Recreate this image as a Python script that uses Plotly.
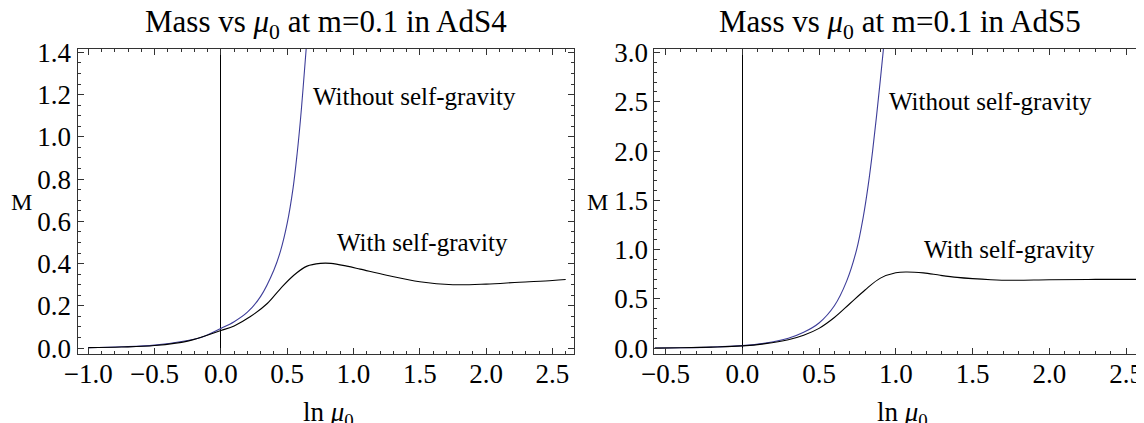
import plotly.graph_objects as go

# ---------------- data ----------------
# AdS4 panel
ads4_free_x = [-1.0, -0.75, -0.5, -0.25, -0.15, 0.0, 0.1, 0.2, 0.3, 0.4, 0.45, 0.5, 0.545, 0.575, 0.60, 0.62, 0.645]
ads4_free_y = [0.002, 0.006, 0.014, 0.036, 0.050, 0.093, 0.125, 0.17, 0.245, 0.37, 0.46, 0.59, 0.76, 0.92, 1.08, 1.23, 1.43]

ads4_grav_x = [-1.0, -0.75, -0.5, -0.25, 0.0, 0.1, 0.22, 0.35, 0.45, 0.55, 0.65, 0.75, 0.83, 0.95, 1.05,
               1.25, 1.5, 1.75, 2.0, 2.25, 2.5, 2.6]
ads4_grav_y = [0.002, 0.005, 0.012, 0.033, 0.083, 0.105, 0.148, 0.211, 0.282, 0.345, 0.388, 0.401, 0.401, 0.388, 0.374,
               0.345, 0.314, 0.300, 0.303, 0.312, 0.320, 0.325]

# AdS5 panel
ads5_free_x = [-0.57, -0.4, -0.2, 0.0, 0.15, 0.3, 0.4, 0.5, 0.6, 0.68, 0.745, 0.788, 0.821, 0.849, 0.875, 0.90, 0.925]
ads5_free_y = [0.0, 0.003, 0.01, 0.025, 0.05, 0.10, 0.16, 0.255, 0.43, 0.68, 1.0, 1.33, 1.66, 2.0, 2.36, 2.73, 3.12]

ads5_grav_x = [-0.57, -0.4, -0.2, 0.0, 0.15, 0.3, 0.4, 0.5, 0.6, 0.7, 0.8, 0.9, 1.0, 1.07, 1.18, 1.29,
               1.4, 1.5, 1.62, 1.75, 2.0, 2.3, 2.62]
ads5_grav_y = [0.0, 0.003, 0.01, 0.022, 0.045, 0.085, 0.13, 0.20, 0.31, 0.45, 0.59, 0.71, 0.765, 0.773, 0.763, 0.739,
               0.718, 0.705, 0.694, 0.688, 0.693, 0.697, 0.698]

ads4_xticks = [-1.0, -0.5, 0.0, 0.5, 1.0, 1.5, 2.0, 2.5]
ads4_yticks = [0.0, 0.2, 0.4, 0.6, 0.8, 1.0, 1.2, 1.4]
ads5_xticks = [-0.5, 0.0, 0.5, 1.0, 1.5, 2.0, 2.5]
ads5_yticks = [0.0, 0.5, 1.0, 1.5, 2.0, 2.5, 3.0]

titles = ["Mass vs <i>μ</i><sub>0</sub> at m=0.1 in AdS4", "Mass vs <i>μ</i><sub>0</sub> at m=0.1 in AdS5"]
xlabel = "ln <i>μ</i><sub>0</sub>"
ylabel = "M"
label_free = "Without self-gravity"
label_grav = "With self-gravity"

# ---------------- figure ----------------
W, H = 1144, 423
OFF = 8  # page body margin of the html page
FONT = "Liberation Serif"
BLUE = "#3d3d99"
FRAME = "#333333"

fig = go.Figure()
for xs, ys, col, xa, ya in [(ads4_free_x, ads4_free_y, BLUE, "x", "y"),
                            (ads4_grav_x, ads4_grav_y, "black", "x", "y"),
                            (ads5_free_x, ads5_free_y, BLUE, "x2", "y2"),
                            (ads5_grav_x, ads5_grav_y, "black", "x2", "y2")]:
    fig.add_trace(go.Scatter(x=xs, y=ys, mode="lines",
                             line=dict(color=col, width=1.1, shape="spline", smoothing=1.0),
                             xaxis=xa, yaxis=ya, showlegend=False, hoverinfo="skip"))


def px_x(p):
    return (p - OFF) / W


def px_y(p):
    return 1 - (p - OFF) / H


tickfont = dict(family=FONT, size=27, color="black")


def axis(domain, rng, tickvals, minor_dtick, anchor, zeroline, standoff):
    return dict(domain=domain, range=rng, tickvals=tickvals, tickformat=".1f",
                ticks="inside", ticklen=6, tickwidth=1, tickcolor=FRAME,
                minor=dict(dtick=minor_dtick, ticks="inside", ticklen=3, tickwidth=1, tickcolor=FRAME, showgrid=False),
                showline=True, linecolor=FRAME, linewidth=1, mirror="ticks",
                showgrid=False, zeroline=zeroline, zerolinecolor="black", zerolinewidth=1,
                tickfont=tickfont, anchor=anchor, fixedrange=True, automargin=False,
                ticklabelstandoff=standoff)


ydom = [px_y(354), px_y(49)]
fig.update_layout(
    width=W, height=H, margin=dict(l=0, r=0, t=0, b=0, pad=0),
    paper_bgcolor="white", plot_bgcolor="white",
    xaxis=axis([px_x(77.5), px_x(574.3)], [-1.081, 2.665], ads4_xticks, 0.1, "y", True, -4),
    yaxis=axis(ydom, [-0.028, 1.416], ads4_yticks, 0.05, "x", False, 0),
    xaxis2=axis([px_x(654.3), px_x(1144)], [-0.573, 2.617], ads5_xticks, 0.1, "y2", True, -4),
    yaxis2=axis(ydom, [-0.06, 3.036], ads5_yticks, 0.1, "x2", False, 0),
)

ann = []
for cx, t in [(326, titles[0]), (900, titles[1])]:
    ann.append(dict(text=t, x=px_x(cx), y=px_y(24), xref="paper", yref="paper", showarrow=False,
                    xanchor="center", yanchor="middle", font=dict(family=FONT, size=31, color="black")))
for cx in [328, 902]:
    ann.append(dict(text=xlabel, x=px_x(cx), y=px_y(414), xref="paper", yref="paper", showarrow=False,
                    xanchor="center", yanchor="middle", font=dict(family=FONT, size=27, color="black")))
for cx in [21, 597]:
    ann.append(dict(text=ylabel, x=px_x(cx), y=px_y(202), xref="paper", yref="paper", showarrow=False,
                    xanchor="center", yanchor="middle", font=dict(family=FONT, size=24, color="black")))
for (xr, yr, xv, yv, t) in [("x", "y", 1.46, 1.19, label_free), ("x", "y", 1.52, 0.50, label_grav),
                             ("x2", "y2", 1.62, 2.50, label_free), ("x2", "y2", 1.74, 1.00, label_grav)]:
    ann.append(dict(text=t, x=xv, y=yv, xref=xr, yref=yr, showarrow=False, xanchor="center", yanchor="middle",
                    font=dict(family=FONT, size=25, color="black")))
fig.update_layout(annotations=ann)

fig.write_html("out.html")
